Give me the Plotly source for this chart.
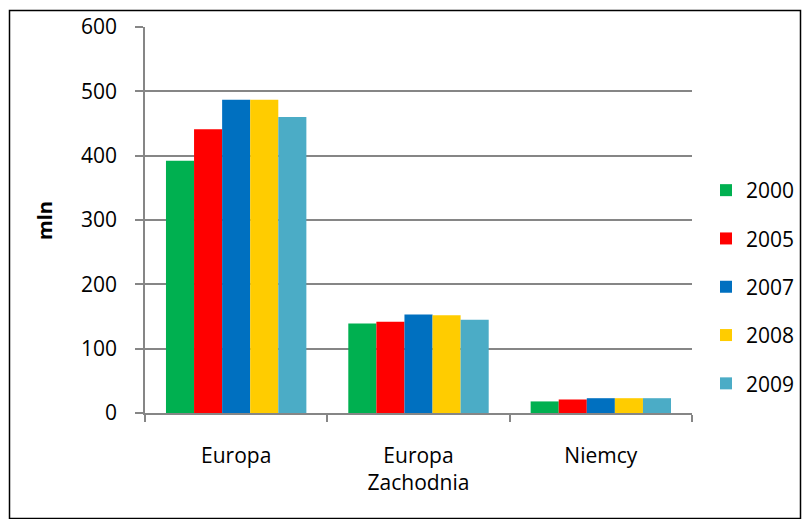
import plotly.graph_objects as go

categories = ["Europa", "Europa<br>Zachodnia", "Niemcy"]
years = ["2000", "2005", "2007", "2008", "2009"]
v2000 = [392, 139, 18]
v2005 = [441, 142, 21]
v2007 = [487, 153, 23]
v2008 = [487, 152, 23]
v2009 = [460, 145, 23]
series = [v2000, v2005, v2007, v2008, v2009]
colors = ["#00B050", "#FF0000", "#0070C0", "#FFCC00", "#4BACC6"]
yticks = [0, 100, 200, 300, 400, 500, 600]

FONT = "Open Sans, sans-serif"
FS = 21

fig = go.Figure()
for name, vals, col in zip(years, series, colors):
    fig.add_trace(go.Bar(name=name, x=categories, y=vals, marker=dict(color=col, line=dict(width=0)),
                         legendgroup=name))

W, H = 802, 519
L, R, T, B = 145, 110, 27, 106
pw, ph = W - L - R, H - T - B

def px_x(x):
    return (x - L) / pw

def px_y(y):
    return (H - B - y) / ph

fig.update_layout(
    width=W, height=H,
    margin=dict(l=L, r=R, t=T, b=B, autoexpand=False),
    paper_bgcolor="white", plot_bgcolor="white",
    barmode="group", bargap=0.23, bargroupgap=0,
    font=dict(family=FONT, size=FS, color="black"),
    showlegend=True,
    legend=dict(x=px_x(706), y=px_y(170), xanchor="left", yanchor="top",
                traceorder="grouped", tracegroupgap=18,
                font=dict(size=FS, family=FONT), itemwidth=30, bgcolor="rgba(0,0,0,0)"),
    xaxis=dict(showline=True, linecolor="#868686", linewidth=1.5,
               ticks="outside", tickson="boundaries", ticklen=7, tickcolor="#868686", tickwidth=1.5,
               tickfont=dict(size=FS, family=FONT), showgrid=False, ticklabelstandoff=23),
    yaxis=dict(range=[0, 600], tickvals=yticks, showline=True, linecolor="#868686", linewidth=1.5,
               ticks="outside", ticklen=8, tickcolor="#868686", tickwidth=1.5,
               showgrid=True, gridcolor="#868686", gridwidth=1.5, zeroline=False,
               tickfont=dict(size=FS, family=FONT), ticklabelstandoff=14),
    annotations=[dict(text="<b>mln</b>", xref="paper", yref="paper", x=px_x(44), y=px_y(221),
                      showarrow=False, textangle=-90, font=dict(size=FS - 1, family=FONT),
                      xanchor="center", yanchor="middle")],
    shapes=[dict(type="rect", xref="paper", yref="paper",
                 x0=px_x(9.5), x1=px_x(800.5), y0=px_y(518.5), y1=px_y(10.5),
                 line=dict(color="black", width=1.5), fillcolor="rgba(0,0,0,0)", layer="below")],
)

fig.write_html("out.html", config={"displayModeBar": False},
               post_script="document.body.style.margin='0';document.body.style.overflow='hidden';")
